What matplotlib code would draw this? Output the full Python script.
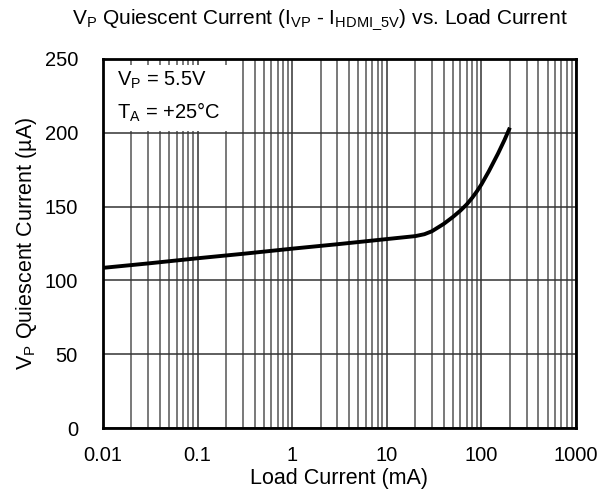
import numpy as np
import matplotlib
matplotlib.use("Agg")
import matplotlib.pyplot as plt
from matplotlib.ticker import LogLocator, NullFormatter
from matplotlib.patches import Rectangle

plt.rcParams['font.family'] = ['Liberation Sans', 'DejaVu Sans']
plt.rcParams['mathtext.fontset'] = 'custom'
plt.rcParams['mathtext.rm'] = 'Liberation Sans'
plt.rcParams['mathtext.it'] = 'Liberation Sans'

# datos
load_ma = [0.01, 0.03, 0.1, 0.3, 1, 3, 10, 20, 25, 30, 40, 50, 60, 70, 80, 90,
           100, 120, 150, 175, 200]
iq_ua = [108.5, 111.5, 115, 118, 121.5, 124.5, 128, 130, 131.3, 133.3, 138.3, 143, 147.3, 151.5, 156, 160.5,
         165, 174, 186, 195, 203.5]

x_ticks = [0.01, 0.1, 1, 10, 100, 1000]
x_labels = ["0.01", "0.1", "1", "10", "100", "1000"]
y_ticks = [0, 50, 100, 150, 200, 250]

fig = plt.figure(figsize=(6.11, 4.94), dpi=100)
ax = fig.add_axes([103/611, 66/494, 473/611, 369/494])

ax.plot(load_ma, iq_ua, color='black', lw=2.8, zorder=5, solid_capstyle='butt',
        solid_joinstyle='round')

ax.set_xscale('log')
ax.set_xlim(0.01, 1000)
ax.set_ylim(0, 250)
ax.set_xticks(x_ticks)
ax.set_xticklabels(x_labels)
ax.xaxis.set_minor_locator(LogLocator(base=10, subs=np.arange(2, 10)))
ax.xaxis.set_minor_formatter(NullFormatter())
ax.set_yticks(y_ticks)

ax.grid(True, which='major', axis='both', color='#333333', lw=1.1)
ax.grid(True, which='minor', axis='x', color='#555555', lw=1.1)
ax.tick_params(which='both', length=0, labelsize=14.5)
ax.tick_params(axis='y', pad=18)
ax.tick_params(axis='x', pad=13)
for s in ax.spines.values():
    s.set_linewidth(2)
    s.set_zorder(6)

ax.set_xlabel("Load Current (mA)", fontsize=15.5, labelpad=2)
ax.set_ylabel(r"V$_\mathrm{P}$ Quiescent Current (µA)", fontsize=15.5, labelpad=4)

# recuadro blanco con las condiciones
ax.add_patch(Rectangle((0, 0.806), 0.279, 0.178, transform=ax.transAxes,
                       facecolor='white', edgecolor='none', zorder=3))
ax.text(0.03, 0.943, r"V$_\mathrm{P}$ = 5.5V", transform=ax.transAxes,
        fontsize=14.5, va='center', zorder=4)
ax.text(0.03, 0.856, r"T$_\mathrm{A}$ = +25°C", transform=ax.transAxes,
        fontsize=14.5, va='center', zorder=4)

fig.text(320/611, 1 - 20/494,
         r"V$_\mathrm{P}$ Quiescent Current (I$_\mathrm{VP}$ - I$_\mathrm{HDMI\_5V}$) vs. Load Current",
         fontsize=15, ha='center', va='center')

fig.savefig("out.png", dpi=100)
